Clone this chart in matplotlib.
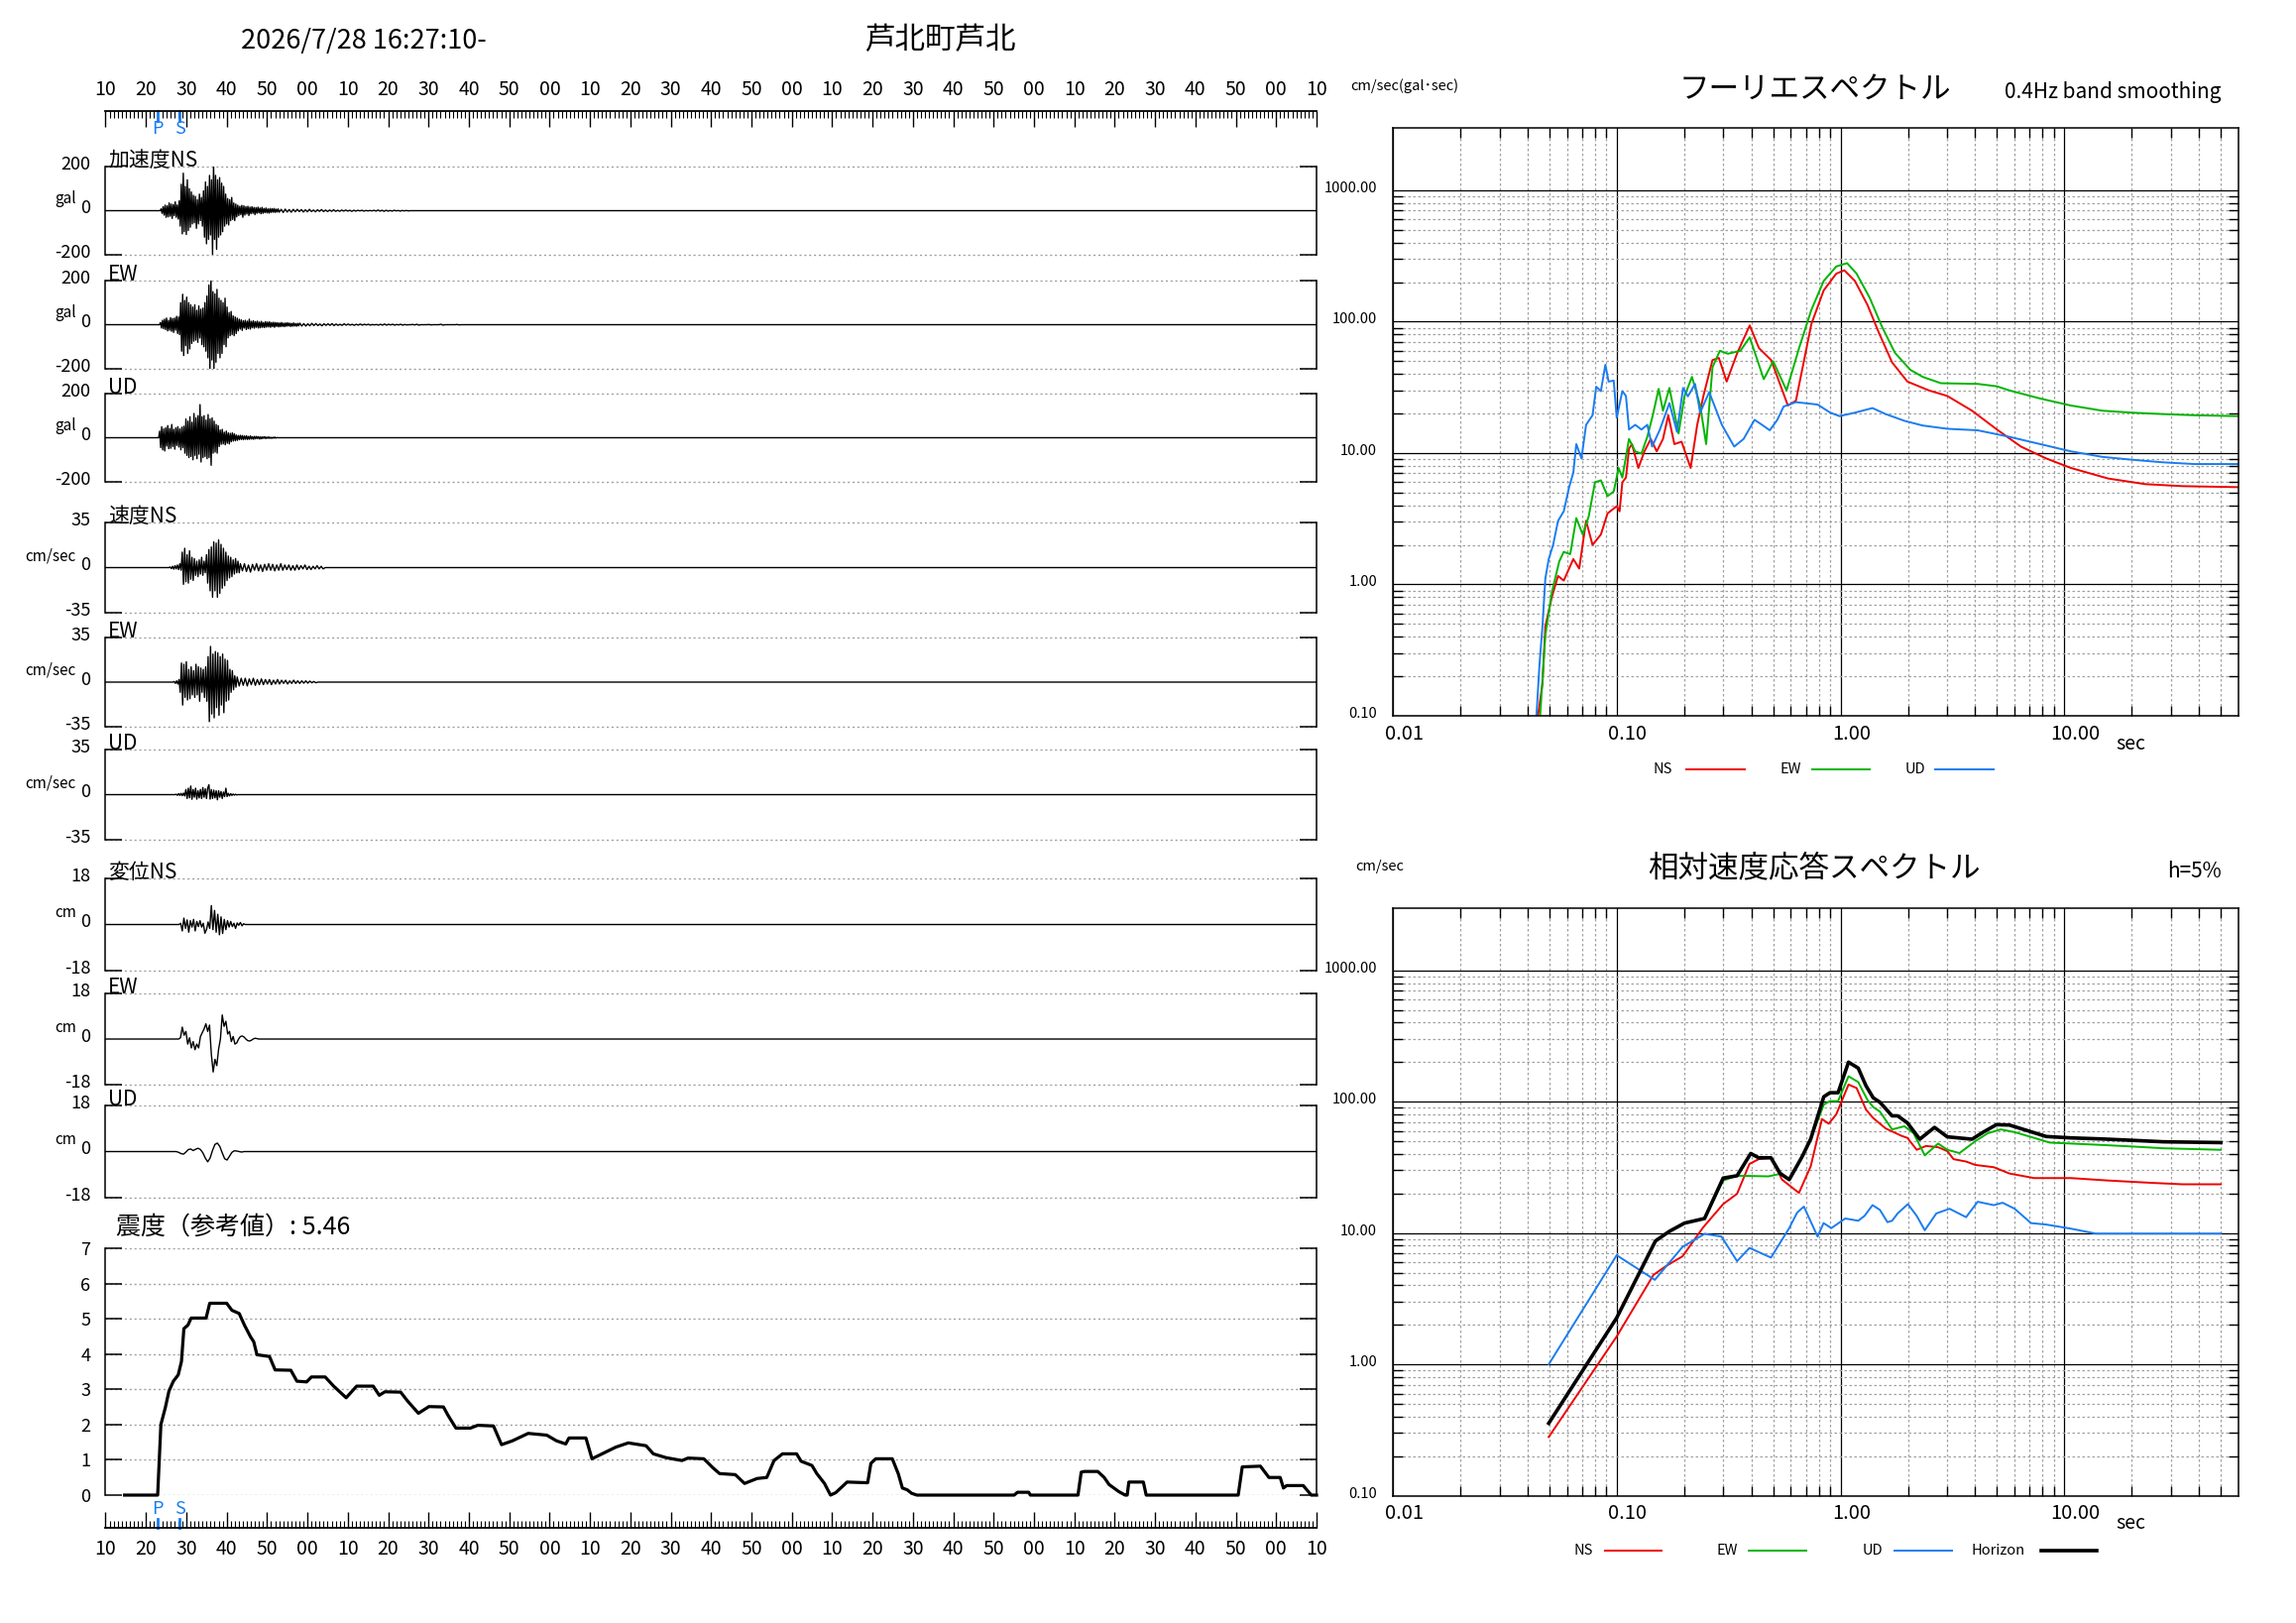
import numpy as np
import matplotlib
matplotlib.use('Agg')
import matplotlib.pyplot as plt
from matplotlib.ticker import FixedLocator, NullFormatter

plt.rcParams['font.family'] = ['Noto Sans CJK JP', 'DejaVu Sans']

W, H = 2316, 1637
RED = '#ee0000'
GREEN = '#00b400'
BLUE = '#1a7cf0'
GRID = '#a0a0a0'

# ---------------- waveforms (extrema) ----------------
# acceleration, gal
acc_ns_t0, acc_ns_dt = 23.75, 0.25
acc_ns = [8, -12, 18, -20, 25, -30, 22, -28, 35, -25, 30, -35, 28, -22, 40, -30, 26, -38, 45,
          -70, 120, -105, 170, -95, 110, -108, 140, -90, 100, -75, 85,
          -60, 70, -55, 65, -80, 50, -60, 75, -45, 60, -70, 90,
          -120, 130, -150, 110, -130, 160, -110, 140, -198, 222, -130, 160, -175, 140, -120, 150, -110, 125, -95, 110,
          -70, 75, -60, 55, -65, 50, -45, 60, -40, 35, -45, 30, -28,
          25, -22, 20, -18, 24, -30, 22, -20, 18, -15, 20, -22, 16, -14, 18, -12, 15, -18, 14, -12, 16,
          -10, 12, -14, 15, -12, 10, -9, 12, -10, 8, -11, 10, -8, 9, -7, 10, -8, 7, -6, 8]
acc_ns_tail_dt = 0.5
acc_ns_tail = [-7, 6, -8, 7, -6, 5, -7, 6, -5, 6, -4, 5, -6, 4, -5, 6, -4, 3, -5, 4, -3, 5, -4, 3,
               -4, 3, -3, 4, -3, 2, -3, 3, -2, 3, -2, 2, -3, 2, -2, 2, -1, 2, -2, 1, -1, 1, -1, 2,
               -2, 3, -2, 2, -3, 2, -2, 1, -2, 2, -1, 1, -2, 1, -1, 1, -1, 0]

acc_ew_t0, acc_ew_dt = 23.6, 0.25
acc_ew = [10, -15, 20, -18, 25, -22, 30, -28, 20, -25, 32, -30, 28, -35, 30, -25, 38, -40, 35, -45,
          100, -120, 138, -140, 110, -95, 125, -130, 100, -110, 90, -85,
          80, -75, 90, -70, 65, -80, 85, -60, 70, -90, 75, -100,
          100, -120, 130, -150, 180, -210, 220, -160, 150, -200, 140, -170, 160, -130, 120, -150, 110, -130,
          100, -90, 120, -100, 80,
          -60, 55, -50, 60, -45, 40, -50, 35, -40, 30, -28,
          25, -20, 22, -26, 18, -15, 20, -22, 16, -18, 25, -20, 15, -14, 18, -16, 14, -12, 16, -15,
          12, -14, 15, -12, 10, -13, 14, -11, 12, -10, 13, -12, 10, -9, 11, -12, 10, -8, 9, -10,
          8, -9, 10, -8, 7, -9, 8, -7, 9, -6, 7, -8, 6, -7, 8, -6, 5, -7, 6, -5]
acc_ew_tail_dt = 0.5
acc_ew_tail = [7, -6, 5, -6, 4, -5, 6, -4, 5, -4, 3, -5, 4, -3, 4, -3, 5, -4, 3, -3,
               2, -3, 4, -2, 3, -2, 2, -3, 2, -2, 3, -2, 2, -1, 2, -2, 1, -1, 1, -2,
               2, -2, 3, -2, 2, -1, 2, -2, 1, -1, 2, -2, 1, -1, 0, 0, 1, -1, 2, -2,
               0, 0, 0, 0, 1, -1, 0, 0, 0, 0, 2, -2, 0, 0, 0, 0, 0, 0, 1, -1, 0]

acc_ud_t0, acc_ud_dt = 23.4, 0.25
acc_ud = [30, -45, 50, -55, 40, -60, 45, -38, 55, -50, 42, -48, 60, -40, 38, -52, 45, -35, 50, -42,
          40, -55, 48, -45, 52,
          -70, 85, -80, 75, -90, 95, -85, 70, -100, 110, -80, 90, -95, 100, -75, 150, -110, 95, -90, 100,
          -85, 80, -95, 105, -90, 85, -125, 90, -70, 75, -65, 60, -70, 55,
          -40, 35, -30, 38, -28, 25, -32, 30, -25, 22, -28, 20, -18, 22, -15, 18, -14, 12,
          -12, 10, -9, 11, -8, 10, -9, 8, -7, 9, -8, 6, -7, 8, -6, 5, -7, 6, -5, 6,
          -4, 5, -6, 4, -5, 4, -3, 5, -4, 3, -3, 4, -3, 2, -3, 2, -2, 3, -2, 1]

# velocity, cm/sec
vel_ns_t0, vel_ns_dt = 26.0, 0.3
vel_ns = [0.5, -0.8, 1, -1.2, 1.5, -1, 2, -1.5, 3, -2,
          12, -13, 15, -11, 10, -12, 13, -9, 8, -10,
          7, -6, 5, -7, 6, -5, 8, -6, 5, -4,
          10, -12, 14, -18, 16, -23, 20, -18, 19, -23, 21.5, -20, 18, -16, 15, -14, 12, -10, 9, -8,
          8, -7, 6, -5, 7, -4, 5, -4]
vel_ns_tail_dt = 0.5
vel_ns_tail = [3, -2.5, 3, -3, 2, -3.5, 2.5, -2, 3, -2.5, 2, -3, 2.5, -2, 3, -2, 2.5, -2.5, 2, -2, 3,
               -2, 2, -1.5, 2, -2, 1.5, -2, 2, -1.5, 1.5, -1, 2, -1.5, 1, -1.5, 1, -1, 1.5, -1, 1, -1]

vel_ew_t0, vel_ew_dt = 27.0, 0.3
vel_ew = [0.5, -1, 1, -1.5, 2,
          -8, 15, -18, 14, -12, 16, -14, 10, -13, 12, -10, 9, -12, 14, -10, 12, -15, 11,
          -8, 10, -12,
          12, -15, 20, -31, 28, -25, 22, -28, 24, -20, 23, -26, 20, -18, 22, -24, 18, -15, 17, -14,
          10, -8, 9, -6, 5, -4]
vel_ew_tail_dt = 0.5
vel_ew_tail = [4, -3, 3, -2.5, 3, -3, 2.5, -2, 3, -2.5, 2, -2, 2.5, -2, 2, -1.5, 2, -2, 1.5, -1.5,
               2, -1.5, 1.5, -1, 1.5, -1.5, 1, -1, 1.5, -1, 1, -1, 1, -0.8, 1, -0.8, 0.8, -0.5, 0.5, -0.5]

vel_ud_t0, vel_ud_dt = 27.5, 0.3
vel_ud = [0.3, -0.5, 0.8, -0.6, 1, -0.8, 1.2, -1,
          4, -3, 5, -2.5, 6.7, -3.6, 4, -2, 5, -3.5, 3, -2.5, 4, -3, 5.5, -2, 4.5, -3, 5,
          7.7, -3.5, 4, -3, 3.5, -2.5, 3, -4, 3, -2, 2.5, -3, 2, -1.5,
          5, -1.5, 1, -1, 0.8, -0.6, 0.5, -0.4, 0.3, -0.2]

# displacement, cm
dis_ns_t0, dis_ns_dt = 28.6, 0.4
dis_ns = [0.5, -2.5, 2.5, -1.5, 1.8, -3.0, 1.5, -1.0, 2.0, -2.5, 1.2, -0.8, 1.5, -1.0, 0.5,
          -3.4, -2.0, 1.0, -1.5, 7.4, -2.0, 5.5, -3.0, 4.0, -4.0, 3.0, -3.5, 2.0, -2.0, 1.5,
          -1.0, 1.2, -0.8, 0.5, -1.5, 0.6, -0.3, 0.8, -0.5, 0.3]

dis_ew_t0, dis_ew_dt = 28.1, 0.45
dis_ew = [0, 0.5, 4.7, 1.5, 3, -2, 0.5, -3.5, -1, -4.2, -2, -3.5, 1, 2.5, 4, 6, 3, 5.5, -6, -13,
          -8, -10.5, -4, 0, 9.5, 5, 7, 2, 3, -1, 1, -2, -1.5, 0, 1, 1.2, 0.8, 0, -0.6, -0.8,
          -0.5, 0, 0.3, 0.2, 0]

dis_ud_t0, dis_ud_dt = 27.5, 0.6
dis_ud = [0, -0.3, -0.8, -1.0, -0.2, 0.8, 1.0, 0.4, 0.9, 1.3, 0.8, -0.5, -2.5, -4.0, -2.5,
          0.5, 2.8, 3.3, 2.0, -0.5, -2.8, -3.3, -1.8, -0.3, 0.3, 0.2, 0, -0.2, 0]

# ---------------- seismic intensity ----------------
shindo_t = [14.7, 22.9, 23.7, 24.8, 25.7, 26.8, 28.0, 28.8, 29.4, 30.4,
            31.2, 34.9, 35.8, 40.0, 41.3, 43.1, 44.4, 45.9, 46.7, 47.5,
            50.6, 52.0, 55.9, 57.4, 59.8, 61.0, 64.4, 66.5, 69.6, 72.2,
            76.3, 77.8, 79.2, 83.1, 84.8, 87.5, 90.1, 93.7, 94.9, 96.8,
            100.4, 102.2, 106.1, 108.1, 110.8, 114.7, 119.3, 121.7, 124.0, 124.8,
            129.0, 130.5, 133.0, 136.4, 139.5, 143.9, 145.7, 148.9, 152.8, 154.3,
            158.2, 160.5, 162.1, 166.0, 168.3, 171.4, 173.8, 175.6, 177.7, 181.2,
            182.3, 185.0, 186.2, 188.1, 189.6, 190.9, 193.7, 198.8, 199.6, 200.8,
            204.9, 206.4, 207.4, 208.6, 209.7, 211.0, 235.1, 235.9, 238.7, 239.1,
            250.9, 251.7, 252.5, 255.8, 257.4, 258.6, 261.0, 262.6, 263.1, 263.5,
            267.1, 267.8, 290.6, 291.6, 296.1, 298.2, 301.0, 301.8, 302.6, 306.7,
            308.7, 310.0]
shindo_v = [0, 0, 2.0, 2.48, 2.95, 3.23, 3.41, 3.79, 4.72, 4.82,
            5.02, 5.02, 5.44, 5.44, 5.24, 5.15, 4.82, 4.49, 4.35, 3.98,
            3.93, 3.55, 3.54, 3.23, 3.21, 3.35, 3.35, 3.09, 2.76, 3.09,
            3.09, 2.83, 2.93, 2.92, 2.67, 2.32, 2.51, 2.50, 2.25, 1.90,
            1.90, 1.98, 1.96, 1.43, 1.54, 1.75, 1.70, 1.54, 1.45, 1.62,
            1.62, 1.03, 1.17, 1.36, 1.48, 1.40, 1.17, 1.06, 0.98, 1.05,
            1.03, 0.77, 0.61, 0.58, 0.33, 0.47, 0.50, 0.98, 1.17, 1.17,
            0.96, 0.84, 0.61, 0.33, 0.0, 0.07, 0.37, 0.35, 0.90, 1.03,
            1.03, 0.60, 0.20, 0.15, 0.05, 0.0, 0.0, 0.08, 0.08, 0.0,
            0.0, 0.65, 0.67, 0.67, 0.50, 0.30, 0.10, 0.0, 0.0, 0.37,
            0.37, 0.0, 0.0, 0.80, 0.82, 0.50, 0.50, 0.20, 0.27, 0.27,
            0.0, 0.0]
shindo_value = 5.46
p_time, s_time = 22.8, 28.3

# ---------------- Fourier spectra (period sec, cm/sec) ----------------
fou_ns_T = [0.0445, 0.0466, 0.048, 0.0513, 0.0547, 0.058, 0.064, 0.068, 0.073, 0.078, 0.085, 0.091,
            0.1, 0.103, 0.106, 0.11, 0.1135, 0.117, 0.125, 0.133, 0.142, 0.151, 0.161, 0.170, 0.181,
            0.195, 0.214, 0.229, 0.244, 0.268, 0.286, 0.31, 0.346, 0.393, 0.432, 0.49, 0.582, 0.632,
            0.741, 0.841, 0.957, 1.04, 1.16, 1.32, 1.49, 1.70, 1.99, 2.48, 3.0, 3.87, 5.0, 6.4, 8.3,
            10.7, 15.7, 23, 33.7, 59.7]
fou_ns_v = [0.1, 0.176, 0.48, 0.80, 1.16, 1.07, 1.56, 1.32, 3.05, 2.0, 2.4, 3.47,
            3.94, 3.6, 6.0, 6.5, 10.8, 11.7, 7.7, 10.3, 12.8, 10.3, 12.8, 19.4, 11.7,
            12.2, 7.7, 16.4, 27.2, 51, 53, 35, 58, 93.6, 63, 51, 23, 25,
            96, 173, 232, 246, 204, 134, 81, 49, 35, 30, 27.2, 21, 15.1, 11.2, 9.1,
            7.7, 6.4, 5.8, 5.6, 5.5]
fou_ew_T = [0.0455, 0.048, 0.0513, 0.0554, 0.058, 0.062, 0.066, 0.0705, 0.075, 0.080, 0.085, 0.091,
            0.097, 0.102, 0.106, 0.1135, 0.121, 0.129, 0.137, 0.145, 0.154, 0.161, 0.172, 0.189,
            0.201, 0.217, 0.236, 0.251, 0.268, 0.289, 0.314, 0.357, 0.393, 0.454, 0.500, 0.574,
            0.653, 0.741, 0.841, 0.957, 1.07, 1.18, 1.35, 1.53, 1.75, 2.05, 2.33, 2.81, 4.1, 5.0,
            5.67, 7.8, 10.7, 14.8, 20, 27.6, 38, 59.7]
fou_ew_v = [0.1, 0.41, 0.87, 1.5, 1.77, 1.7, 3.2, 2.4, 3.3, 6.0, 6.2, 4.7,
            5.1, 7.7, 6.5, 12.8, 10.3, 9.9, 13.3, 19.4, 30.8, 21, 31.3, 14.1,
            27.2, 38, 23, 11.7, 45, 60, 57, 60, 76, 36.5, 50, 30,
            63, 123, 204, 263, 279, 232, 152, 92, 58, 43, 38, 34, 33.6, 32.2,
            30, 26, 23, 21, 20.3, 19.8, 19.4, 19.1]
fou_ud_T = [0.0438, 0.0452, 0.0466, 0.048, 0.0497, 0.052, 0.0547, 0.058, 0.0613, 0.064, 0.066,
            0.0696, 0.073, 0.078, 0.081, 0.085, 0.089, 0.092, 0.097, 0.1, 0.106, 0.110, 0.1135,
            0.121, 0.129, 0.137, 0.144, 0.156, 0.172, 0.186, 0.198, 0.208, 0.224, 0.236, 0.259,
            0.295, 0.335, 0.369, 0.413, 0.446, 0.483, 0.522, 0.557, 0.632, 0.79, 0.90, 0.99,
            1.16, 1.39, 1.59, 1.93, 2.33, 3.0, 4.1, 5.67, 7.8, 10.7, 14.8, 20, 27.6, 38, 59.7]
fou_ud_v = [0.1, 0.246, 0.48, 1.11, 1.56, 2.0, 3.05, 3.6, 5.5, 7.1, 11.7,
            9.1, 16.4, 19.4, 32, 29.6, 47, 35, 35.6, 18.6, 29.6, 27.2, 15.1,
            16.4, 15.1, 16.4, 11.2, 15.1, 24, 14.5, 31.3, 27, 33.6, 20.3, 29.1,
            16.4, 11.2, 12.8, 17.9, 16.4, 14.9, 17.9, 22.6, 24.4, 23.4, 20.3, 19.1,
            20.3, 22, 19.8, 17.6, 16.2, 15.3, 14.9, 13.3, 11.7, 10.3, 9.35, 8.9, 8.5, 8.25, 8.25]

# ---------------- relative velocity response spectra, h=5% ----------------
rsp_ns_T = [0.0497, 0.1, 0.146, 0.166, 0.197, 0.243, 0.299, 0.345, 0.392, 0.431, 0.489, 0.548,
            0.652, 0.736, 0.826, 0.886, 0.957, 1.086, 1.18, 1.30, 1.40, 1.59, 1.87, 1.99, 2.19,
            2.41, 2.73, 3.0, 3.2, 3.64, 4.0, 4.84, 5.68, 7.33, 10.7, 15.7, 24.5, 33.7, 50]
rsp_ns_v = [0.28, 1.63, 4.8, 5.6, 6.65, 11, 16.6, 19.9, 33.6, 36.5, 37.4, 25.5,
            20.2, 32.2, 73.8, 68, 80, 135, 127, 87, 75, 62.6, 55, 53, 43,
            46, 45, 42, 36.5, 35, 33, 31.7, 28.4, 26.2, 26.2, 25.1, 24.1, 23.5, 23.5]
rsp_ew_T = [0.0497, 0.1, 0.149, 0.172, 0.201, 0.247, 0.299, 0.345, 0.476, 0.537, 0.59, 0.673,
            0.736, 0.842, 0.897, 0.975, 1.086, 1.20, 1.32, 1.40, 1.50, 1.70, 1.93, 2.12, 2.38,
            2.73, 3.0, 3.4, 4.0, 4.55, 5.2, 6.0, 7.33, 8.6, 10.7, 14.8, 20, 27.6, 50]
rsp_ew_v = [0.356, 2.26, 8.7, 10.3, 11.9, 12.9, 25.1, 27.3, 27, 28.2, 25.5, 38,
            52, 95, 101, 101, 156, 141, 103, 91, 84, 61.5, 65, 57.5, 39,
            48, 43, 40.6, 50, 57.5, 61.5, 58.6, 53, 48.8, 48, 46.8, 45.6, 44.2, 43]
rsp_ud_T = [0.0497, 0.1, 0.148, 0.197, 0.247, 0.294, 0.345, 0.392, 0.489, 0.59, 0.64, 0.686,
            0.79, 0.84, 0.91, 1.05, 1.2, 1.28, 1.39, 1.50, 1.62, 1.70, 1.80, 2.0, 2.19, 2.38,
            2.68, 3.07, 3.64, 4.1, 4.84, 5.3, 6.0, 7.1, 8.3, 10.7, 13.8, 20, 50]
rsp_ud_v = [1.0, 6.78, 4.4, 7.85, 9.85, 9.4, 6.1, 7.7, 6.5, 10.9, 14.3, 15.9,
            9.4, 11.9, 10.9, 12.9, 12.4, 13.5, 16.3, 15, 12.1, 12.4, 14.1, 16.6, 13.5, 10.5,
            14.1, 15.3, 13.2, 17.3, 16.3, 17, 15.3, 11.9, 11.6, 10.8, 9.9, 9.9, 9.9]
rsp_hz_T = [0.0497, 0.1, 0.149, 0.172, 0.201, 0.247, 0.299, 0.345, 0.397, 0.431, 0.489, 0.537,
            0.59, 0.673, 0.736, 0.842, 0.897, 0.975, 1.086, 1.20, 1.30, 1.40, 1.50, 1.70, 1.80,
            1.99, 2.26, 2.63, 3.0, 3.87, 4.37, 4.97, 5.68, 6.88, 8.3, 10.7, 14.8, 20, 27.6, 50]
rsp_hz_v = [0.356, 2.26, 8.7, 10.3, 11.9, 12.9, 26.2, 27.3, 40.3, 37.4, 37.4, 28.5,
            25.5, 38, 52, 109, 117, 117, 200, 180, 132, 107, 99, 78, 78,
            69, 51.8, 63.7, 54, 51.8, 59, 66.8, 66.4, 60, 54.3, 53, 52, 50.8, 49.5, 48.8]

spec_xticks = [0.01, 0.1, 1, 10]
spec_xlabels = ['0.01', '0.10', '1.00', '10.00']
spec_yticks = [0.1, 1, 10, 100, 1000]
spec_ylabels = ['0.10', '1.00', '10.00', '100.00', '1000.00']

# =====================================================================
fig = plt.figure(figsize=(W / 100, H / 100), dpi=100)


def rect(x0, y0, x1, y1):
    return [x0 / W, 1 - y1 / H, (x1 - x0) / W, (y1 - y0) / H]


X0, X1 = 106.5, 1328


def wave_panel(top, bot, amp, label, unit, t0, parts, lw=1.0):
    ax = fig.add_axes(rect(X0, top, X1, bot))
    ts, vs = [10.0, t0 - parts[0][0]], [0.0, 0.0]
    t = t0
    for dt, vals in parts:
        for v in vals:
            ts.append(t)
            vs.append(v)
            t += dt
    ts += [t, 310.0]
    vs += [0.0, 0.0]
    ax.plot(ts, vs, color='black', lw=lw)
    ax.set_xlim(10, 310)
    ax.set_ylim(-amp, amp)
    for s in ('top', 'bottom'):
        ax.spines[s].set_visible(False)
    for s in ('left', 'right'):
        ax.spines[s].set_linewidth(1.1)
    ax.set_xticks([])
    ax.set_yticks([-amp, amp])
    ax.tick_params(axis='y', direction='in', length=12, width=1.1,
                   left=True, right=True, labelleft=False)
    for yv in (-amp, amp):
        ax.axhline(yv, color=GRID, lw=1, ls=(0, (1.5, 2)), clip_on=False, zorder=0)
    for yv, txt in ((amp, str(amp)), (0, '0'), (-amp, str(-amp))):
        ax.annotate(txt, xy=(0, yv), xycoords=('axes fraction', 'data'),
                    xytext=(-11, 1.5), textcoords='offset points',
                    ha='right', va='center', fontsize=13)
    ax.annotate(unit, xy=(0, 0), xycoords=('axes fraction', 'data'),
                xytext=(-21.5, 8.5), textcoords='offset points',
                ha='right', va='center', fontsize=11)
    ax.annotate(label, xy=(0, 1), xycoords='axes fraction',
                xytext=(2, 0), textcoords='offset points',
                ha='left', va='baseline', fontsize=15)
    return ax


wave_panel(168, 257, 200, '加速度NS', 'gal', acc_ns_t0,
           [(acc_ns_dt, acc_ns), (acc_ns_tail_dt, acc_ns_tail)], lw=1.0)
wave_panel(283, 372, 200, 'EW', 'gal', acc_ew_t0,
           [(acc_ew_dt, acc_ew), (acc_ew_tail_dt, acc_ew_tail)], lw=1.0)
wave_panel(397, 486, 200, 'UD', 'gal', acc_ud_t0, [(acc_ud_dt, acc_ud)], lw=1.0)
wave_panel(527, 618, 35, '速度NS', 'cm/sec', vel_ns_t0,
           [(vel_ns_dt, vel_ns), (vel_ns_tail_dt, vel_ns_tail)])
wave_panel(643, 733, 35, 'EW', 'cm/sec', vel_ew_t0,
           [(vel_ew_dt, vel_ew), (vel_ew_tail_dt, vel_ew_tail)])
wave_panel(756, 847, 35, 'UD', 'cm/sec', vel_ud_t0, [(vel_ud_dt, vel_ud)])
wave_panel(886, 979, 18, '変位NS', 'cm', dis_ns_t0, [(dis_ns_dt, dis_ns)])
wave_panel(1002, 1094, 18, 'EW', 'cm', dis_ew_t0, [(dis_ew_dt, dis_ew)])
wave_panel(1115, 1208, 18, 'UD', 'cm', dis_ud_t0, [(dis_ud_dt, dis_ud)])


# ---- time axes ----
def time_axis(y0, y1, side):
    ax = fig.add_axes(rect(X0, y0, X1, y1))
    ax.patch.set_alpha(0)
    ax.set_xlim(10, 310)
    ax.set_ylim(16, 0)
    for s in ('left', 'right', 'top', 'bottom'):
        ax.spines[s].set_visible(s == side)
    ax.spines[side].set_linewidth(1.3)
    ax.xaxis.set_ticks_position(side)
    major = np.arange(10, 311, 10)
    ax.set_xticks(major)
    ax.set_xticks(np.arange(10, 311, 1), minor=True)
    ax.set_xticklabels(['%02d' % (s % 60) for s in major])
    ax.tick_params(axis='x', which='major', direction='in', length=11.5, width=1,
                   labelsize=14, pad=8)
    ax.tick_params(axis='x', which='minor', direction='in', length=5, width=0.8)
    ax.set_yticks([])
    return ax


axt = time_axis(112, 128, 'top')
for tm, lab in ((p_time, 'P'), (s_time, 'S')):
    axt.plot([tm, tm], [0, 10], color=BLUE, lw=2, clip_on=False)
    axt.text(tm, 18, lab, color=BLUE, fontsize=13, ha='center', va='center')

axb = time_axis(1525, 1541, 'bottom')
for tm, lab in ((p_time, 'P'), (s_time, 'S')):
    axb.plot([tm, tm], [7, 16], color=BLUE, lw=2, clip_on=False)
    axb.text(tm, -3, lab, color=BLUE, fontsize=13, ha='center', va='center')

# ---- intensity ----
axi = fig.add_axes(rect(X0, 1259, X1, 1508))
axi.plot(shindo_t, shindo_v, color='black', lw=2.3, clip_on=False, zorder=3)
axi.set_xlim(10, 310)
axi.set_ylim(0, 7)
for s in ('top', 'bottom'):
    axi.spines[s].set_visible(False)
for s in ('left', 'right'):
    axi.spines[s].set_linewidth(1.1)
axi.set_xticks([])
axi.set_yticks(range(8))
axi.tick_params(axis='y', direction='in', length=12, width=1.1, left=True, right=True,
                labelsize=13, pad=11)
axi.grid(axis='y', color=GRID, ls=(0, (1.5, 2)), lw=1)


# ---- spectra ----
def spec_axes(y0, y1):
    ax = fig.add_axes(rect(1405, y0, 2258, y1))
    ax.set_xscale('log')
    ax.set_yscale('log')
    ax.set_xlim(0.01, 60)
    ax.set_ylim(0.1, 3000)
    xminor = [k * 10.0 ** d for d in (-2, -1, 0) for k in range(2, 10)] + [20, 30, 40, 50]
    yminor = [k * 10.0 ** d for d in (-1, 0, 1, 2) for k in range(2, 10)]
    ax.xaxis.set_major_locator(FixedLocator(spec_xticks))
    ax.yaxis.set_major_locator(FixedLocator(spec_yticks))
    ax.xaxis.set_minor_locator(FixedLocator(xminor))
    ax.yaxis.set_minor_locator(FixedLocator(yminor))
    for a in (ax.xaxis, ax.yaxis):
        a.set_major_formatter(NullFormatter())
        a.set_minor_formatter(NullFormatter())
    ax.grid(which='major', color='black', lw=0.9, ls='-')
    ax.grid(which='minor', color=GRID, lw=0.9, ls=(0, (2, 2)))
    ax.tick_params(which='both', direction='in', top=True, right=True)
    ax.tick_params(which='major', length=0)
    ax.tick_params(which='minor', length=7, width=1)
    for s in ax.spines.values():
        s.set_linewidth(1.1)
    for v, txt in zip(spec_xticks, spec_xlabels):
        ax.annotate(txt, xy=(v, 0), xycoords=('data', 'axes fraction'),
                    xytext=(8, -13), textcoords='offset points',
                    ha='center', va='center', fontsize=14.5)
    for v, txt in zip(spec_yticks, spec_ylabels):
        ax.annotate(txt, xy=(0, v), xycoords=('axes fraction', 'data'),
                    xytext=(-11.5, 1.5), textcoords='offset points',
                    ha='right', va='center', fontsize=10.5)
    return ax


axf = spec_axes(128.7, 722)
axf.plot(fou_ns_T, fou_ns_v, color=RED, lw=1.4)
axf.plot(fou_ew_T, fou_ew_v, color=GREEN, lw=1.4)
axf.plot(fou_ud_T, fou_ud_v, color=BLUE, lw=1.4)

axr = spec_axes(915.5, 1508.6)
axr.plot(rsp_ns_T, rsp_ns_v, color=RED, lw=1.4)
axr.plot(rsp_ew_T, rsp_ew_v, color=GREEN, lw=1.4)
axr.plot(rsp_ud_T, rsp_ud_v, color=BLUE, lw=1.4)
axr.plot(rsp_hz_T, rsp_hz_v, color='black', lw=2.6)

# ---- free texts and legends (pixel overlay) ----
lay = fig.add_axes([0, 0, 1, 1], zorder=10)
lay.set_xlim(0, W)
lay.set_ylim(H, 0)
lay.axis('off')

lay.text(367, 41, '2026/7/28 16:27:10-', fontsize=19.5, ha='center', va='center')
lay.text(948, 41, '芦北町芦北', fontsize=22, ha='center', va='center')
lay.text(117, 1238, '震度（参考値）: %.2f' % shindo_value, fontsize=18, ha='left', va='center')

lay.text(1362, 87, 'cm/sec(gal･sec)', fontsize=10.5, ha='left', va='center')
lay.text(1831, 90, 'フーリエスペクトル', fontsize=22, ha='center', va='center')
lay.text(2131, 93, '0.4Hz band smoothing', fontsize=15, ha='center', va='center')
lay.text(2149, 750, 'sec', fontsize=14, ha='center', va='center')

lay.text(1367, 874, 'cm/sec', fontsize=10.5, ha='left', va='center')
lay.text(1830, 876, '相対速度応答スペクトル', fontsize=22, ha='center', va='center')
lay.text(2213, 879, 'h=5%', fontsize=15, ha='center', va='center')
lay.text(2149, 1537, 'sec', fontsize=14, ha='center', va='center')

for name, col, xt, xa, xb in (('NS', RED, 1677, 1701, 1760),
                               ('EW', GREEN, 1806, 1828, 1886),
                               ('UD', BLUE, 1932, 1952, 2011)):
    lay.text(xt, 776, name, fontsize=10.5, ha='center', va='center')
    lay.plot([xa, xb], [776, 776], color=col, lw=1.4)

for name, col, xt, xa, xb, w in (('NS', RED, 1597, 1619, 1676, 1.4),
                                  ('EW', GREEN, 1742, 1764, 1822, 1.4),
                                  ('UD', BLUE, 1889, 1911, 1969, 1.4),
                                  ('Horizon', 'black', 2016, 2059, 2115, 2.6)):
    lay.text(xt, 1564, name, fontsize=10.5, ha='center', va='center')
    lay.plot([xa, xb], [1564, 1564], color=col, lw=w)

fig.savefig('out.png', dpi=100)
